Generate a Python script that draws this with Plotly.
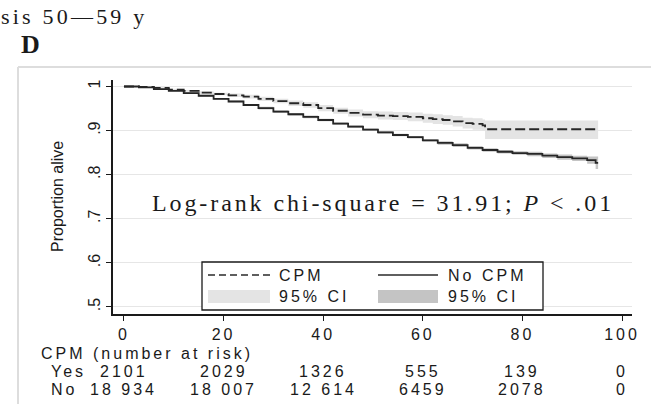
import plotly.graph_objects as go

# ---------------- data ----------------
cpm_t = [0, 3, 6, 9, 12, 15, 18, 21, 24, 27, 30, 33, 36, 39, 42, 45, 48, 51, 54, 57, 60,
         62, 64, 66, 68, 70, 72, 72.5, 95.2]
cpm_s = [1.000, 0.999, 0.997, 0.993, 0.990, 0.986, 0.983, 0.980, 0.977, 0.972, 0.967, 0.962,
         0.958, 0.951, 0.945, 0.940, 0.936, 0.934, 0.933, 0.931, 0.928,
         0.926, 0.924, 0.921, 0.917, 0.915, 0.912, 0.903, 0.903]
cpm_lo = [1.000, 0.998, 0.996, 0.991, 0.988, 0.983, 0.980, 0.976, 0.973, 0.967, 0.962, 0.956,
          0.952, 0.944, 0.938, 0.932, 0.928, 0.925, 0.924, 0.921, 0.918,
          0.915, 0.913, 0.909, 0.905, 0.902, 0.899, 0.881, 0.881]
cpm_hi = [1.000, 1.000, 0.998, 0.995, 0.992, 0.989, 0.986, 0.984, 0.981, 0.977, 0.972, 0.968,
          0.964, 0.958, 0.952, 0.948, 0.944, 0.943, 0.942, 0.941, 0.938,
          0.937, 0.935, 0.933, 0.929, 0.928, 0.925, 0.923, 0.923]

no_t = [0, 3, 6, 9, 12, 15, 18, 21, 24, 27, 30, 33, 36, 39, 42, 45, 48, 51, 54, 57, 60,
        63, 66, 69, 72, 75, 78, 81, 84, 87, 90, 93, 94.7, 95.2]
no_s = [1.000, 0.998, 0.994, 0.990, 0.985, 0.979, 0.972, 0.966, 0.958, 0.951, 0.943, 0.937,
        0.931, 0.924, 0.916, 0.909, 0.902, 0.896, 0.890, 0.885, 0.878,
        0.872, 0.867, 0.861, 0.856, 0.852, 0.849, 0.847, 0.843, 0.840, 0.837, 0.833, 0.827, 0.827]
no_lo = [1.000, 0.997, 0.993, 0.989, 0.983, 0.977, 0.970, 0.964, 0.956, 0.948, 0.940, 0.934,
         0.928, 0.921, 0.913, 0.906, 0.899, 0.893, 0.887, 0.882, 0.875,
         0.868, 0.863, 0.857, 0.852, 0.848, 0.845, 0.842, 0.838, 0.834, 0.831, 0.825, 0.813, 0.813]
no_hi = [1.000, 0.999, 0.995, 0.991, 0.987, 0.981, 0.974, 0.968, 0.960, 0.954, 0.946, 0.940,
         0.934, 0.927, 0.919, 0.912, 0.905, 0.899, 0.893, 0.888, 0.881,
         0.876, 0.871, 0.865, 0.860, 0.856, 0.853, 0.852, 0.848, 0.846, 0.843, 0.841, 0.841, 0.841]

x_ticks = [0, 20, 40, 60, 80, 100]
y_ticks = [1.0, 0.9, 0.8, 0.7, 0.6, 0.5]
y_tick_labels = ["1", ".9", ".8", ".7", ".6", ".5"]
risk_yes = ["2101", "2029", "1326", "555", "139", "0"]
risk_no = ["18 934", "18 007", "12 614", "6459", "2078", "0"]

# ---------------- layout geometry (pixels) ----------------
Wd, Ht = 651, 404
L, R, T, B = 113, 632, 80, 314
PW, PH = R - L, B - T


def px(x):
    return (x - L) / PW


def py(y):
    return (B - y) / PH


def wide(text, ls):
    return "<span style='letter-spacing:%.1fpx'>%s</span>" % (ls, text)


SANS = "Liberation Sans, Arial, sans-serif"
SERIF = "Liberation Serif, Times New Roman, serif"
INK = "#1a1a1a"
CI_LIGHT = "#e4e4e4"
CI_DARK = "#c4c4c4"
SANS_SIZE = 16
SANS_LS = 3.0

fig = go.Figure()

# CPM CI band
fig.add_trace(go.Scatter(x=cpm_t, y=cpm_lo, mode="lines", line=dict(width=0, shape="hv"),
                         showlegend=False, hoverinfo="skip"))
fig.add_trace(go.Scatter(x=cpm_t, y=cpm_hi, mode="lines", line=dict(width=0, shape="hv"),
                         fill="tonexty", fillcolor=CI_LIGHT, showlegend=False, hoverinfo="skip"))
# No CPM CI band
fig.add_trace(go.Scatter(x=no_t, y=no_lo, mode="lines", line=dict(width=0, shape="hv"),
                         showlegend=False, hoverinfo="skip"))
fig.add_trace(go.Scatter(x=no_t, y=no_hi, mode="lines", line=dict(width=0, shape="hv"),
                         fill="tonexty", fillcolor=CI_DARK, showlegend=False, hoverinfo="skip"))
# survival lines
fig.add_trace(go.Scatter(x=cpm_t, y=cpm_s, mode="lines",
                         line=dict(color="#262626", width=1.8, shape="hv", dash="10px,4px"),
                         showlegend=False))
fig.add_trace(go.Scatter(x=no_t, y=no_s, mode="lines",
                         line=dict(color="#262626", width=1.8, shape="hv"),
                         showlegend=False))

shapes = []
annotations = []

# outer light frame
shapes.append(dict(type="line", xref="paper", yref="paper", x0=px(18), x1=px(651), y0=py(67), y1=py(67),
                   line=dict(color="#dddddd", width=2)))
shapes.append(dict(type="line", xref="paper", yref="paper", x0=px(18), x1=px(18), y0=py(67), y1=py(404),
                   line=dict(color="#dddddd", width=2)))

# legend box
shapes.append(dict(type="rect", xref="paper", yref="paper", x0=px(202), x1=px(543), y0=py(262), y1=py(310),
                   line=dict(color=INK, width=1.3), fillcolor="white", layer="above"))
shapes.append(dict(type="line", xref="paper", yref="paper", x0=px(208), x1=px(270), y0=py(275), y1=py(275),
                   line=dict(color="#2a2a2a", width=1.3, dash="7px,4px"), layer="above"))
shapes.append(dict(type="line", xref="paper", yref="paper", x0=px(378), x1=px(438), y0=py(275), y1=py(275),
                   line=dict(color="#2a2a2a", width=1.3), layer="above"))
shapes.append(dict(type="rect", xref="paper", yref="paper", x0=px(208), x1=px(270), y0=py(290), y1=py(303),
                   line=dict(width=0), fillcolor=CI_LIGHT, layer="above"))
shapes.append(dict(type="rect", xref="paper", yref="paper", x0=px(378), x1=px(438), y0=py(290), y1=py(303),
                   line=dict(width=0), fillcolor=CI_DARK, layer="above"))
for txt, x0, y0 in [("CPM", 277, 275), ("No CPM", 446, 275), ("95% CI", 277, 296), ("95% CI", 446, 296)]:
    annotations.append(dict(text=wide(txt, SANS_LS), xref="paper", yref="paper", x=px(x0), y=py(y0),
                            xanchor="left", yanchor="middle", showarrow=False,
                            font=dict(family=SANS, size=SANS_SIZE, color=INK)))

# titles
annotations.append(dict(text=wide("sis 50—59 y", 3.2), xref="paper", yref="paper", x=px(-1), y=py(16),
                        xanchor="left", yanchor="middle", showarrow=False,
                        font=dict(family=SERIF, size=22, color=INK)))
annotations.append(dict(text=wide("<b>D</b>", 0.0), xref="paper", yref="paper", x=px(19), y=py(44),
                        xanchor="left", yanchor="middle", showarrow=False,
                        font=dict(family=SERIF, size=26, color=INK)))
# y-axis title
annotations.append(dict(text="Proportion alive", xref="paper", yref="paper", x=px(57), y=py(197),
                        xanchor="center", yanchor="middle", textangle=-90, showarrow=False,
                        font=dict(family=SANS, size=16, color=INK)))
# log-rank text
annotations.append(dict(text=wide("Log-rank chi-square = 31.91; <i>P</i> < .01", 2.9),
                        xref="paper", yref="paper",
                        x=px(383), y=py(203), xanchor="center", yanchor="middle", showarrow=False,
                        font=dict(family=SERIF, size=24, color=INK)))
# number at risk table
annotations.append(dict(text=wide("CPM (number at risk)", SANS_LS), xref="paper", yref="paper",
                        x=px(39), y=py(353),
                        xanchor="left", yanchor="middle", showarrow=False,
                        font=dict(family=SANS, size=SANS_SIZE, color=INK)))
annotations.append(dict(text=wide("Yes", SANS_LS), xref="paper", yref="paper", x=px(49), y=py(371),
                        xanchor="left", yanchor="middle", showarrow=False,
                        font=dict(family=SANS, size=SANS_SIZE, color=INK)))
annotations.append(dict(text=wide("No", SANS_LS), xref="paper", yref="paper", x=px(49), y=py(389),
                        xanchor="left", yanchor="middle", showarrow=False,
                        font=dict(family=SANS, size=SANS_SIZE, color=INK)))
for xv, ty, tn in zip(x_ticks, risk_yes, risk_no):
    annotations.append(dict(text=wide(ty, SANS_LS), xref="x", yref="paper", x=xv, y=py(371),
                            xanchor="center", yanchor="middle", showarrow=False,
                            font=dict(family=SANS, size=SANS_SIZE, color=INK)))
    annotations.append(dict(text=wide(tn, SANS_LS), xref="x", yref="paper", x=xv, y=py(389),
                            xanchor="center", yanchor="middle", showarrow=False,
                            font=dict(family=SANS, size=SANS_SIZE, color=INK)))

fig.update_layout(
    width=Wd, height=Ht,
    margin=dict(l=L, r=Wd - R, t=T, b=Ht - B),
    paper_bgcolor="white", plot_bgcolor="white",
    showlegend=False,
    shapes=shapes, annotations=annotations,
    xaxis=dict(range=[-2.2, 102], tickvals=x_ticks, ticktext=[wide(str(v), SANS_LS) for v in x_ticks],
               showgrid=False, zeroline=False, showline=True, linecolor=INK, linewidth=1.5,
               ticks="outside", ticklen=5, tickwidth=1.3, tickcolor=INK,
               tickfont=dict(family=SANS, size=SANS_SIZE, color=INK)),
    yaxis=dict(range=[0.4841, 1.0147], tickvals=y_ticks, ticktext=y_tick_labels,
               showgrid=True, gridcolor="#e6e6e6", gridwidth=1.2, zeroline=False,
               showline=True, linecolor=INK, linewidth=1.5,
               ticks="outside", ticklen=5, tickwidth=1.3, tickcolor=INK, tickangle=-90,
               tickfont=dict(family=SANS, size=16, color=INK)),
)

fig.write_html("out.html")
